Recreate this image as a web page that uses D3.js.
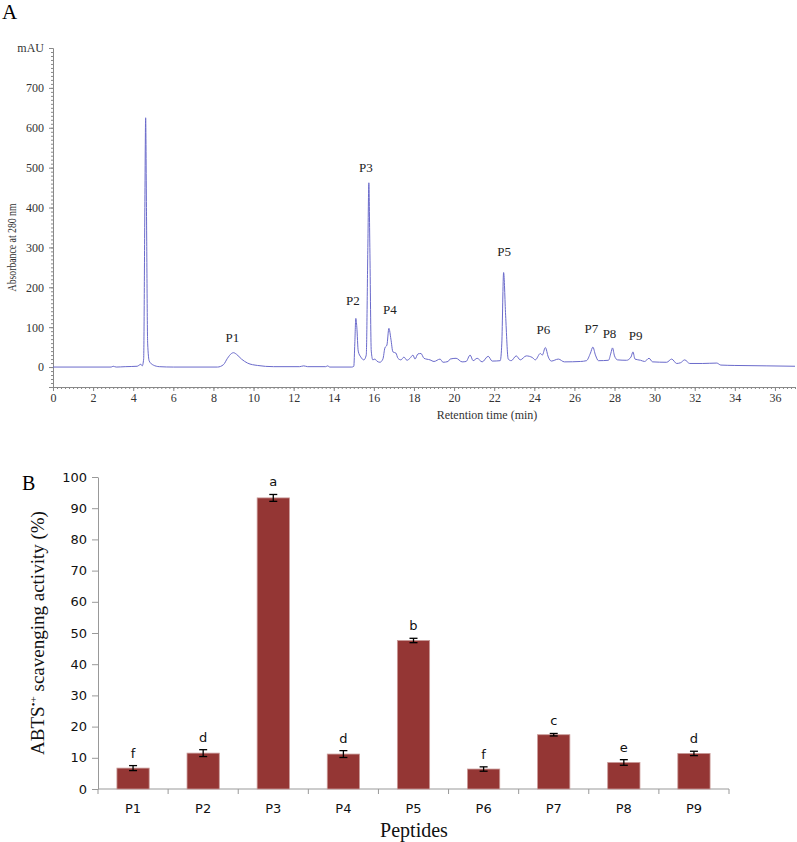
<!DOCTYPE html>
<html>
<head>
<meta charset="utf-8">
<script src="https://cdn.jsdelivr.net/npm/d3@7"></script>
<style>
  body { margin: 0; background: #fff; }
  svg { display: block; }
</style>
</head>
<body>
<div id="okvir"></div>
<script>
// kromatogram: [vrijeme (min), apsorbancija (mAU)]
const kromatogram = [
  [0,0],[2.9,0],[3.0,2],[3.15,0],[3.6,1],[4.2,2],[4.3,5],[4.38,7],[4.45,3],[4.52,20],
  [4.58,400],[4.62,625],[4.66,400],[4.72,60],[4.8,15],[5.0,5],[5.3,1],[6,0],[8.2,0],
  [8.5,6],[8.7,22],[8.9,34],[9.0,36],[9.15,32],[9.4,20],[9.7,10],[10.2,4],[11,1],
  [12.3,1],[12.5,3],[12.7,1],[13.6,1],[13.7,3],[13.8,0],[14.9,0],[15.0,2],[15.05,60],
  [15.1,122],[15.15,100],[15.22,40],[15.35,25],[15.5,18],[15.62,30],[15.7,300],[15.75,462],
  [15.8,300],[15.87,40],[15.95,18],[16.05,20],[16.15,15],[16.3,12],[16.45,20],[16.55,48],
  [16.65,55],[16.75,97],[16.85,70],[16.95,38],[17.1,35],[17.2,22],[17.35,18],[17.5,25],
  [17.65,17],[17.8,22],[17.95,30],[18.05,20],[18.2,33],[18.35,34],[18.5,22],[18.8,18],
  [19.0,14],[19.3,20],[19.45,12],[19.7,14],[19.8,20],[20.1,22],[20.4,13],[20.6,14],
  [20.8,30],[20.95,16],[21.15,22],[21.4,13],[21.7,27],[21.9,15],[22.3,16],[22.38,60],
  [22.47,237],[22.57,130],[22.7,20],[22.85,16],[23.1,28],[23.3,18],[23.6,28],[23.9,24],
  [24.05,18],[24.3,34],[24.4,30],[24.55,49],[24.7,25],[24.85,15],[25.2,20],[25.5,13],
  [26.3,14],[26.6,16],[26.8,35],[26.92,50],[27.05,30],[27.2,16],[27.7,17],[27.82,35],
  [27.9,48],[28.0,28],[28.15,18],[28.6,17],[28.82,25],[28.92,38],[29.02,20],[29.3,17],
  [29.5,14],[29.72,22],[29.9,13],[30.6,12],[30.85,20],[31.1,9],[31.3,11],[31.5,18],
  [31.75,9],[32.4,9],[33.1,10],[33.3,5],[34,4],[35.6,3],[37,2]
];

// oznake vrhova: [naziv, vrijeme, mAU polozaj oznake]
const vrhovi = [
  ["P1", 8.95, 64], ["P2", 14.95, 156], ["P3", 15.6, 488], ["P4", 16.8, 132],
  ["P5", 22.5, 278], ["P6", 24.45, 82], ["P7", 26.85, 85], ["P8", 27.75, 73],
  ["P9", 29.05, 67]
];

const yTickoviA = [0, 100, 200, 300, 400, 500, 600, 700, 800];
const xTickoviA = d3.range(0, 37, 2);

// graf B
const peptidi = ["P1","P2","P3","P4","P5","P6","P7","P8","P9"];
const aktivnost = [6.7, 11.5, 93.3, 11.2, 47.6, 6.4, 17.4, 8.5, 11.4];
const greske = [0.8, 1.1, 1.1, 1.1, 0.7, 0.7, 0.4, 0.9, 0.7];
const slova = ["f","d","a","d","b","f","c","e","d"];
const yTickoviB = d3.range(0, 101, 10);

const svg = d3.select("#okvir").append("svg")
  .attr("width", 797)
  .attr("height", 842);

const serif = "'Liberation Serif', 'Times New Roman', serif";
const sans = "'DejaVu Sans', Verdana, sans-serif";

// ---------------- Graf A ----------------
const xA = d3.scaleLinear().domain([0, 37]).range([53, 795]);
const yA = d3.scaleLinear().domain([-50, 800]).range([387, 48]);

svg.append("text")
  .attr("x", 2).attr("y", 19)
  .style("font-family", serif).style("font-size", "21px")
  .text("A");

const osA = svg.append("g");

// minor ticks y
osA.append("g")
  .attr("transform", "translate(53,0)")
  .call(d3.axisLeft(yA).tickValues(d3.range(-50, 801, 10)).tickSize(2).tickFormat(""))
  .call(g => g.select(".domain").remove())
  .selectAll("line").attr("stroke", "#888");

const yOsA = osA.append("g")
  .attr("transform", "translate(53,0)")
  .call(d3.axisLeft(yA).tickValues(yTickoviA).tickSize(4).tickPadding(5)
    .tickFormat(d => d === 800 ? "mAU" : d));
yOsA.select(".domain").attr("stroke", "#888");
yOsA.selectAll("line").attr("stroke", "#888");
yOsA.selectAll("text").attr("fill", "#333")
  .style("font-family", serif).style("font-size", "12px");

// minor ticks x
osA.append("g")
  .attr("transform", "translate(0,387)")
  .call(d3.axisBottom(xA).tickValues(d3.range(0, 37.01, 0.2)).tickSize(2).tickFormat(""))
  .call(g => g.select(".domain").remove())
  .selectAll("line").attr("stroke", "#888");

const xOsA = osA.append("g")
  .attr("transform", "translate(0,387)")
  .call(d3.axisBottom(xA).tickValues(xTickoviA).tickSize(4).tickPadding(2).tickSizeOuter(0));
xOsA.select(".domain").attr("stroke", "#888");
xOsA.selectAll("line").attr("stroke", "#888");
xOsA.selectAll("text").attr("fill", "#333")
  .style("font-family", serif).style("font-size", "12px");

svg.append("text")
  .attr("x", 487).attr("y", 419)
  .attr("text-anchor", "middle")
  .attr("fill", "#333")
  .style("font-family", serif).style("font-size", "12px")
  .text("Retention time (min)");

svg.append("text")
  .attr("transform", `translate(16,${yA(300)}) rotate(-90)`)
  .attr("text-anchor", "middle")
  .attr("fill", "#333")
  .attr("textLength", 88)
  .attr("lengthAdjust", "spacingAndGlyphs")
  .style("font-family", serif).style("font-size", "12px")
  .text("Absorbance at 280 nm");

const linija = d3.line()
  .x(d => xA(d[0]))
  .y(d => yA(d[1]))
  .curve(d3.curveMonotoneX);

svg.append("path")
  .datum(kromatogram)
  .attr("d", linija)
  .attr("fill", "none")
  .attr("stroke", "#6a6acb")
  .attr("stroke-width", 1);

svg.append("g").selectAll("text")
  .data(vrhovi)
  .join("text")
    .attr("x", d => xA(d[1]))
    .attr("y", d => yA(d[2]))
    .attr("text-anchor", "middle")
    .attr("fill", "#222")
    .style("font-family", serif).style("font-size", "13px")
    .text(d => d[0]);

// ---------------- Graf B ----------------
const xB = d3.scaleBand().domain(peptidi).range([98, 729]).paddingInner(0.54).paddingOuter(0.27);
const yB = d3.scaleLinear().domain([0, 100]).range([789, 477]);

svg.append("text")
  .attr("x", 22).attr("y", 490)
  .style("font-family", serif).style("font-size", "20px")
  .text("B");

const yOsB = svg.append("g")
  .attr("transform", "translate(98,0)")
  .call(d3.axisLeft(yB).tickValues(yTickoviB).tickSize(6).tickPadding(5).tickSizeOuter(0));
yOsB.select(".domain").attr("stroke", "#999");
yOsB.selectAll("line").attr("stroke", "#999");
yOsB.selectAll("text").attr("fill", "#111")
  .style("font-family", sans).style("font-size", "13px");

// x os s crticama izmedu kategorija
const xOsB = svg.append("g").attr("transform", "translate(0,789)");
xOsB.append("line")
  .attr("x1", 98).attr("x2", 729)
  .attr("stroke", "#999");
const granice = peptidi.map(p => xB(p) - xB.step() * xB.paddingInner() / 2).concat([729]);
xOsB.selectAll(".crtica")
  .data(granice)
  .join("line")
    .attr("class", "crtica")
    .attr("x1", d => d).attr("x2", d => d)
    .attr("y1", 0).attr("y2", 5)
    .attr("stroke", "#999");
xOsB.selectAll(".oznaka")
  .data(peptidi)
  .join("text")
    .attr("class", "oznaka")
    .attr("x", d => xB(d) + xB.bandwidth() / 2)
    .attr("y", 24)
    .attr("text-anchor", "middle")
    .attr("fill", "#111")
    .style("font-family", sans).style("font-size", "13px")
    .text(d => d);

const stupci = peptidi.map((p, i) => ({ p, v: aktivnost[i], e: greske[i], s: slova[i] }));

svg.append("g").selectAll("rect")
  .data(stupci)
  .join("rect")
    .attr("x", d => xB(d.p))
    .attr("y", d => yB(d.v))
    .attr("width", xB.bandwidth())
    .attr("height", d => yB(0) - yB(d.v))
    .attr("fill", "#943634")
    .attr("stroke", "#c99a98")
    .attr("stroke-width", 0.8);

const eg = svg.append("g").attr("stroke", "#000").attr("stroke-width", 1.3);
stupci.forEach(d => {
  const cx = xB(d.p) + xB.bandwidth() / 2;
  eg.append("line").attr("x1", cx).attr("x2", cx)
    .attr("y1", yB(d.v - d.e)).attr("y2", yB(d.v + d.e));
  eg.append("line").attr("x1", cx - 4).attr("x2", cx + 4)
    .attr("y1", yB(d.v - d.e)).attr("y2", yB(d.v - d.e));
  eg.append("line").attr("x1", cx - 4).attr("x2", cx + 4)
    .attr("y1", yB(d.v + d.e)).attr("y2", yB(d.v + d.e));
});

svg.append("g").selectAll("text")
  .data(stupci)
  .join("text")
    .attr("x", d => xB(d.p) + xB.bandwidth() / 2)
    .attr("y", d => yB(d.v + d.e) - 8)
    .attr("text-anchor", "middle")
    .attr("fill", "#111")
    .style("font-family", sans).style("font-size", "13px")
    .text(d => d.s);

const yNaslovB = svg.append("text")
  .attr("transform", `translate(44,633) rotate(-90)`)
  .attr("text-anchor", "middle")
  .attr("fill", "#111")
  .style("font-family", serif).style("font-size", "19px");
yNaslovB.append("tspan").text("ABTS");
yNaslovB.append("tspan").attr("dy", -7).style("font-size", "11px").text("•+");
yNaslovB.append("tspan").attr("dy", 7).text(" scavenging activity (%)");

svg.append("text")
  .attr("x", 414).attr("y", 837)
  .attr("text-anchor", "middle")
  .attr("fill", "#111")
  .style("font-family", serif).style("font-size", "20px")
  .text("Peptides");
</script>
</body>
</html>
